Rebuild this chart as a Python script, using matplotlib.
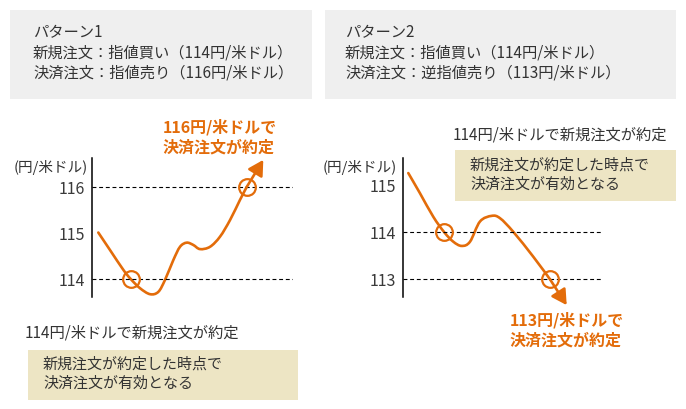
import matplotlib
matplotlib.use("Agg")
import matplotlib.pyplot as plt
import numpy as np
from matplotlib.path import Path
from matplotlib.patches import PathPatch, Rectangle

plt.rcParams['font.family'] = ['Noto Sans CJK JP', 'DejaVu Sans']

# ---------------- data ----------------
# pattern 1 (price path, time in arbitrary units)
p1_time = [0.63, 1.8, 3.13, 3.87, 4.8, 5.8, 6.63, 7.3, 8.13, 8.8, 9.47, 10.13,
           10.8, 11.8, 12.8, 13.8, 14.8, 15.47]
p1_price = [115.01, 114.63, 114.20, 114.0, 113.80, 113.67, 113.72, 113.98, 114.41,
            114.70, 114.79, 114.74, 114.65, 114.70, 114.92, 115.28, 115.72, 116.0]
p1_arrow_tip = (17.13, 116.59)
p1_circle_time = [3.87, 15.47]
p1_circle_price = [114, 116]
p1_levels = [114, 116]
p1_ticks = [114, 115, 116]

# pattern 2
p2_time = [0.56, 1.73, 3.06, 4.16, 5.06, 5.9, 6.73, 7.73, 8.9, 9.73, 11.06, 13.06, 14.73]
p2_price = [115.26, 114.83, 114.33, 114.0, 113.80, 113.71, 113.80, 114.23, 114.35,
            114.30, 114.01, 113.48, 113.0]
p2_arrow_tip = (16.4, 112.45)
p2_circle_time = [4.16, 14.73]
p2_circle_price = [114, 113]
p2_levels = [113, 114]
p2_ticks = [113, 114, 115]

unit_label = "(円/米ドル)"
header1 = ["パターン1", "新規注文：指値買い（114円/米ドル）", "決済注文：指値売り（116円/米ドル）"]
header2 = ["パターン2", "新規注文：指値買い（114円/米ドル）", "決済注文：逆指値売り（113円/米ドル）"]
p1_exit_note = ["116円/米ドルで", "決済注文が約定"]
p2_exit_note = ["113円/米ドルで", "決済注文が約定"]
entry_note = "114円/米ドルで新規注文が約定"
entry_box = ["新規注文が約定した時点で", "決済注文が有効となる"]

# ---------------- style ----------------
W, H = 686, 409
ORANGE = '#e36c0a'
DARK = '#333333'
GRAY_BG = '#efefef'
BEIGE = '#ede5c4'

fig = plt.figure(figsize=(W / 100, H / 100), dpi=100)


def fx(px):
    return px / W


def fy(py):
    return 1 - py / H


def smooth_path(xs, ys):
    P = np.column_stack([xs, ys]).astype(float)
    n = len(P)
    verts = [P[0]]
    codes = [Path.MOVETO]
    for i in range(n - 1):
        p0 = P[i - 1] if i > 0 else P[i]
        p1 = P[i]
        p2 = P[i + 1]
        p3 = P[i + 2] if i + 2 < n else P[i + 1]
        c1 = p1 + (p2 - p0) / 6
        c2 = p2 - (p3 - p1) / 6
        verts += [c1, c2, p2]
        codes += [Path.CURVE4] * 3
    return Path(verts, codes)


# header boxes
bg = fig.add_axes([0, 0, 1, 1])
bg.set_xlim(0, W)
bg.set_ylim(H, 0)
bg.axis('off')
bg.add_patch(Rectangle((10, 10), 302, 89, color=GRAY_BG, lw=0))
bg.add_patch(Rectangle((325, 10), 351, 89, color=GRAY_BG, lw=0))
bg.add_patch(Rectangle((28, 350), 270, 50, color=BEIGE, lw=0))
bg.add_patch(Rectangle((455, 150), 221, 51, color=BEIGE, lw=0))

for i, line in enumerate(header1):
    fig.text(fx(33), fy(33 + 20 * i), line, fontsize=11, color=DARK, va='center', ha='left')
for i, line in enumerate(header2):
    fig.text(fx(345), fy(33 + 20 * i), line, fontsize=11, color=DARK, va='center', ha='left')


def make_panel(left_px, right_px, y_at_ref, ref_price, px_per_unit, time, price, tip,
               ctime, cprice, levels, ticks):
    top_px, bot_px = 150, 312
    ax = fig.add_axes([fx(left_px), fy(bot_px), (right_px - left_px) / W, (bot_px - top_px) / H])
    ax.set_xlim(0, (right_px - left_px) / 10)
    ylo = ref_price - (bot_px - y_at_ref) / px_per_unit
    yhi = ref_price + (y_at_ref - top_px) / px_per_unit
    ax.set_ylim(ylo, yhi)
    ax.patch.set_alpha(0)
    for s in ['top', 'right', 'bottom']:
        ax.spines[s].set_visible(False)
    ax.spines['left'].set_linewidth(1.1)
    ax.spines['left'].set_bounds(ref_price - (297 - y_at_ref) / px_per_unit,
                                 ref_price + (y_at_ref - 158) / px_per_unit)
    ax.set_xticks([])
    ax.set_yticks(ticks)
    ax.set_yticklabels([str(t) for t in ticks], fontsize=11.5, color='#3a3a3a')
    ax.tick_params(axis='y', length=0, pad=5)
    for lv in levels:
        ax.plot([0, (right_px - left_px) / 10], [lv, lv], color='black', lw=0.8,
                dashes=(3.5, 2.5))
    ax.add_patch(PathPatch(smooth_path(time, price), facecolor='none', edgecolor=ORANGE,
                           lw=1.9, capstyle='round', joinstyle='round'))
    ax.annotate('', xy=tip, xytext=(time[-1], price[-1]),
                arrowprops=dict(arrowstyle='-|>,head_length=0.5,head_width=0.28',
                                mutation_scale=18, color=ORANGE, lw=1.9,
                                shrinkA=0, shrinkB=0), annotation_clip=False)
    ax.plot(ctime, cprice, linestyle='none', marker='o', markersize=12, mfc='none',
            mec=ORANGE, mew=1.6)
    return ax


ax1 = make_panel(92, 293, 279, 114, 46, p1_time, p1_price, p1_arrow_tip,
                 p1_circle_time, p1_circle_price, p1_levels, p1_ticks)
ax2 = make_panel(402.7, 603, 232.3, 114, 47, p2_time, p2_price, p2_arrow_tip,
                 p2_circle_time, p2_circle_price, p2_levels, p2_ticks)

fig.text(fx(88), fy(167), unit_label, fontsize=10.5, color=DARK, ha='right', va='center')
fig.text(fx(397), fy(167), unit_label, fontsize=10.5, color=DARK, ha='right', va='center')

for i, line in enumerate(p1_exit_note):
    fig.text(fx(163), fy(127 + 20 * i), line, fontsize=11.5, color=ORANGE, fontweight='bold',
             ha='left', va='center')
for i, line in enumerate(p2_exit_note):
    fig.text(fx(510), fy(320 + 20 * i), line, fontsize=11.5, color=ORANGE, fontweight='bold',
             ha='left', va='center')

fig.text(fx(25), fy(333), entry_note, fontsize=11, color=DARK, ha='left', va='center')
fig.text(fx(453), fy(135), entry_note, fontsize=11, color=DARK, ha='left', va='center')
for i, line in enumerate(entry_box):
    fig.text(fx(43), fy(364 + 20 * i), line, fontsize=10.8, color=DARK, ha='left', va='center')
    fig.text(fx(470), fy(165 + 20 * i), line, fontsize=10.8, color=DARK, ha='left', va='center')

fig.savefig('out.png', dpi=100)
